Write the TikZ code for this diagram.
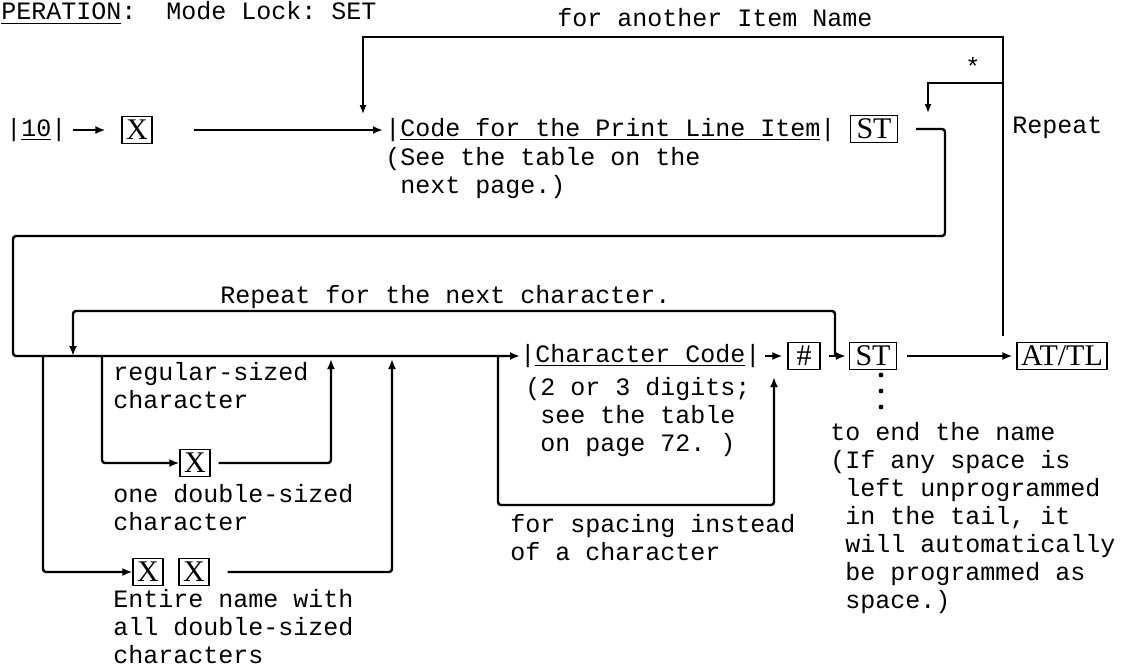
\documentclass[tikz,border=0pt]{standalone}
\usepackage{fontspec}
\usetikzlibrary{arrows.meta}
\newfontfamily\monofont{Liberation Mono}
\newfontfamily\keyfont{Liberation Serif}
\frenchspacing

\begin{document}
\begin{tikzpicture}[
  x=0.5pt, y=-0.5pt, >={Latex[length=5pt,width=4pt]},
  txt/.style={font=\monofont\fontsize{12.5}{14}\selectfont, inner sep=0pt, anchor=west},
  para/.style={txt, anchor=north west, align=left},
  key/.style={draw, line width=0.6pt, font=\keyfont\fontsize{15}{17}\selectfont, inner sep=0pt, minimum height=13.5pt, minimum width=15pt},
  flow/.style={line width=1.2pt, rounded corners=1.5pt},
  loopline/.style={line width=0.7pt, >={Latex[length=4.5pt,width=3.5pt]}},
]
  \useasboundingbox (0,0) rectangle (1130,671);
  \node[txt] (title) at (1,13) {\underline{PERATION}:~~Mode Lock: SET};
  \node[txt] (another) at (557,18) {for another Item Name};
  \node[txt] (star) at (965,66) {*};
  \node[txt] (repeat) at (1012,128) {Repeat};
  \node[txt] (ten) at (6,130) {|\underline{10}|};
  \node[key] (xa) at (137,130) {X};
  \node[txt] (code) at (385,130) {|\underline{Code for the Print Line Item}|};
  \node[key, minimum width=23.5pt] (st1) at (874,129) {ST};
  \node[para] (seetab) at (385,147) {(See the table on the\\~next page.)};
  \node[txt] (rptchr) at (220,297) {Repeat for the next character.};
  \node[txt] (cc) at (520,356) {|\underline{Character Code}|};
  \node[key, minimum width=16pt] (hash) at (804,356) {\#};
  \node[key, minimum width=23.5pt] (st2) at (873,356) {ST};
  \node[key, minimum width=45pt] (attl) at (1062,356) {AT/TL};
  \node[key] (xb) at (195,463) {X};
  \node[key] (xx1) at (148,572) {X};
  \node[key] (xx2) at (194,572) {X};
  \node[para] (regular) at (113,362) {regular-sized\\character};
  \node[para] (onedbl) at (113,484) {one double-sized\\character};
  \node[para] (entire) at (113,589) {Entire name with\\all double-sized\\characters};
  \node[para] (digits) at (525,377) {(2 or 3 digits;\\~see the table\\~on page 72. )};
  \node[para] (spacing) at (510,514) {for spacing instead\\of a character};
  \node[para] (endname) at (830,422) {to end the name\\(If any space is\\~left unprogrammed\\~in the tail, it\\~will automatically\\~be programmed as\\~space.)};
  \coordinate (upend) at (1003,336);
  \coordinate (topleft) at (363,37);
  \coordinate (itemin) at (363,114);
  \coordinate (starfork) at (1003,83);
  \coordinate (starin) at (928,113);
  \coordinate (stdrop) at (945,236);
  \coordinate (leftup) at (13,236);
  \coordinate (leftdn) at (13,356);
  \coordinate (rpfork) at (835,356);
  \coordinate (rpleft) at (73,311);
  \coordinate (rpin) at (73,356);
  \coordinate (dblfork) at (43,356);
  \coordinate (onefork) at (102,356);
  \coordinate (spfork) at (498,356);
  \coordinate (onejoin) at (331,359);
  \coordinate (dbljoin) at (392,359);
  \coordinate (spcorner) at (774,505);
  \coordinate (spjoin) at (774,377);
  \draw[loopline,->] (upend) |- (topleft) -- (itemin);
  \draw[loopline,->] (starfork) -| (starin);
  \draw[flow,->,shorten <=3pt,shorten >=8pt] (ten) -- (xa);
  \draw[flow,->,shorten <=20.5pt,shorten >=1pt] (xa) -- (code);
  \draw[flow,->,shorten <=9pt] (st1.east) -| (stdrop) -- (leftup) -- (leftdn) -- (cc.west);
  \draw[flow,->,shorten <=2pt,shorten >=2.5pt] (cc) -- (hash);
  \draw[flow,->,shorten <=4pt,shorten >=1.5pt] (hash) -- (st2);
  \draw[flow,->] (rpfork) |- (rpleft) -- (rpin);
  \draw[flow,->,shorten <=5pt,shorten >=2pt] (st2) -- (attl);
  \draw[flow,->] (dblfork) |- (xx1);
  \draw[flow,->,shorten <=9pt] (xx2) -| (dbljoin);
  \draw[flow,->] (onefork) |- (xb);
  \draw[flow,->,shorten <=4pt] (xb) -| (onejoin);
  \draw[flow,->] (spfork) |- (spcorner) -- (spjoin);
  \foreach \y in {375,391,407} \fill (881,\y) circle (1.2pt);
\end{tikzpicture}
\end{document}
